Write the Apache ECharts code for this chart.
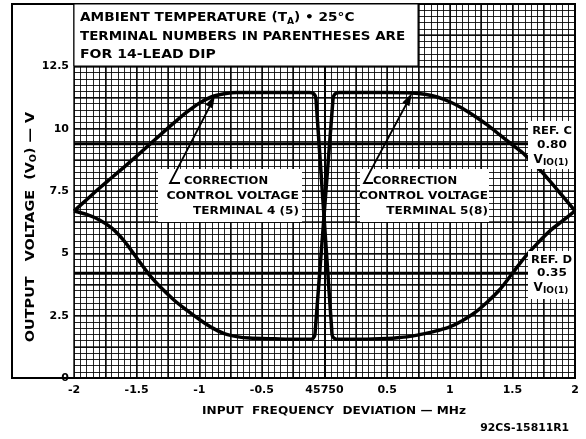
<!DOCTYPE html>
<html><head><meta charset="utf-8">
<script src="https://cdn.jsdelivr.net/npm/echarts@6/dist/echarts.min.js"></script>
<style>html,body{margin:0;padding:0;background:#fff}#c{width:586px;height:439px}</style>
</head><body><div id="c"></div>
<script>
// ---- data ----
const xTickValues = [-2, -1.5, -1, -0.5, 0, 0.5, 1, 1.5, 2];
const xTickLabels = ['-2', '-1.5', '-1', '-0.5', '45750', '0.5', '1', '1.5', '2'];
const yTickValues = [0, 2.5, 5, 7.5, 10, 12.5];
const yTickLabels = ['0', '2.5', '5', '7.5', '10', '12.5'];

// Correction control voltage, terminal 4(5)
const curveAx = [-2, -1.9, -1.8, -1.7, -1.6, -1.5, -1.4, -1.3, -1.2, -1.1, -1.0, -0.9, -0.8, -0.7, -0.5, -0.3, -0.12, -0.085, -0.068, 0.06, 0.075, 0.11, 0.3, 0.5, 0.6, 0.7, 0.8, 0.9, 1.0, 1.1, 1.2, 1.3, 1.4, 1.5, 1.6, 1.7, 1.8, 1.9, 2.0];
const curveAy = [6.7, 7.15, 7.6, 8.03, 8.46, 8.9, 9.35, 9.8, 10.24, 10.66, 11.02, 11.28, 11.4, 11.45, 11.45, 11.45, 11.45, 11.4, 11.2, 1.75, 1.6, 1.55, 1.55, 1.58, 1.62, 1.68, 1.78, 1.9, 2.05, 2.3, 2.62, 3.05, 3.55, 4.2, 4.85, 5.4, 5.9, 6.3, 6.7];
// Correction control voltage, terminal 5(8)
const curveBx = [-2, -1.9, -1.8, -1.7, -1.6, -1.5, -1.4, -1.3, -1.2, -1.1, -1.0, -0.9, -0.8, -0.7, -0.6, -0.4, -0.2, -0.11, -0.09, -0.076, 0.068, 0.085, 0.12, 0.3, 0.5, 0.7, 0.8, 0.9, 1.0, 1.1, 1.2, 1.3, 1.4, 1.5, 1.6, 1.7, 1.8, 1.9, 2.0];
const curveBy = [6.7, 6.56, 6.35, 6.02, 5.5, 4.82, 4.15, 3.6, 3.12, 2.72, 2.35, 2.02, 1.78, 1.66, 1.6, 1.57, 1.55, 1.55, 1.6, 1.75, 11.2, 11.4, 11.45, 11.45, 11.45, 11.43, 11.38, 11.27, 11.08, 10.82, 10.5, 10.15, 9.75, 9.35, 8.95, 8.45, 7.9, 7.3, 6.7];

const refC = 9.4;   // REF. C 0.80 VIO(1)
const refD = 4.2;   // REF. D 0.35 VIO(1)
const xMin = -2, xMax = 2, yMin = 0, yMax = 15;

// ---- chart ----
const FONT = 'DejaVu Sans';
const chart = echarts.init(document.getElementById('c'), null, {renderer: 'canvas'});
const zip = (xs, ys) => xs.map((x, i) => [x, ys[i]]);

function gridAxis(type, interval, width) {
  return {
    type: 'value', min: type === 'x' ? xMin : yMin, max: type === 'x' ? xMax : yMax,
    interval: interval, axisLabel: {show: false}, axisTick: {show: false}, axisLine: {show: false},
    splitLine: {show: true, lineStyle: {color: '#000', width: width, opacity: 0.85}}
  };
}

const lbl = {color: '#000', fontFamily: FONT, fontWeight: 'bold', fontSize: 11};

const option = {
  animation: false,
  backgroundColor: '#fff',
  grid: {left: 74, right: 11, top: 4, bottom: 61, containLabel: false},
  xAxis: [
    {
      type: 'value', min: xMin, max: xMax, interval: 0.5,
      axisLine: {show: true, lineStyle: {color: '#000', width: 2}},
      axisTick: {show: false}, splitLine: {show: false},
      axisLabel: Object.assign({margin: 7, formatter: v => {
        const i = xTickValues.findIndex(t => Math.abs(t - v) < 1e-6);
        return i >= 0 ? xTickLabels[i] : '';
      }}, lbl)
    },
    gridAxis('x', 0.05, 1),
    gridAxis('x', 0.25, 1.6)
  ],
  yAxis: [
    {
      type: 'value', min: yMin, max: yMax, interval: 2.5,
      axisLine: {show: true, lineStyle: {color: '#000', width: 2}},
      axisTick: {show: false}, splitLine: {show: false},
      axisLabel: Object.assign({margin: 5, formatter: v => {
        const i = yTickValues.findIndex(t => Math.abs(t - v) < 1e-6);
        return i >= 0 ? yTickLabels[i] : '';
      }}, lbl)
    },
    gridAxis('y', 0.25, 1),
    gridAxis('y', 1.25, 1.6)
  ],
  series: [
    {type: 'line', name: 'REF C', data: [[xMin, refC], [xMax, refC]], symbol: 'none',
      lineStyle: {color: '#000', width: 3}, z: 3},
    {type: 'line', name: 'REF D', data: [[xMin, refD], [xMax, refD]], symbol: 'none',
      lineStyle: {color: '#000', width: 3}, z: 3},
    {type: 'line', name: 'Terminal 4(5)', data: zip(curveAx, curveAy), symbol: 'none',
      smooth: 0.3, lineStyle: {color: '#000', width: 3.5, join: 'round'}, z: 4},
    {type: 'line', name: 'Terminal 5(8)', data: zip(curveBx, curveBy), symbol: 'none',
      smooth: 0.3, lineStyle: {color: '#000', width: 3.5, join: 'round'}, z: 4}
  ]
};

chart.setOption(option);

// annotation overlays (positions in pixels)
const tStyle = (text, x, y, size, align, sx) => ({
  type: 'text', z: 102, x: x, y: y, scaleX: sx || 1,
  style: {text: text, fill: '#000', font: 'bold ' + size + 'px "' + FONT + '"',
    textAlign: align || 'left', textVerticalAlign: 'middle'}
});
const richSub = (nSize, sSize, pad) => ({
  n: {font: 'bold ' + nSize + 'px "' + FONT + '"', fill: '#000'},
  s: {font: 'bold ' + sSize + 'px "' + FONT + '"', fill: '#000', padding: [pad, 0, 0, 0]}
});

function arrowHead(tip, from, len, half) {
  const dx = tip[0] - from[0], dy = tip[1] - from[1];
  const L = Math.hypot(dx, dy), ux = dx / L, uy = dy / L;
  const bx = tip[0] - ux * len, by = tip[1] - uy * len;
  return {type: 'polygon', z: 103, shape: {points: [tip, [bx - uy * half, by + ux * half], [bx + uy * half, by - ux * half]]},
    style: {fill: '#000'}};
}

const g = [
  // outer frame
  {type: 'rect', z: 101, shape: {x: 12, y: 4, width: 563, height: 374}, style: {fill: 'none', stroke: '#000', lineWidth: 2}},
  // title box
  {type: 'rect', z: 101, shape: {x: 74, y: 4, width: 344, height: 62}, style: {fill: '#fff', stroke: '#000', lineWidth: 1}},
  {type: 'text', z: 102, x: 80, y: 18, scaleX: 1.14, style: {text: '{n|AMBIENT TEMPERATURE (T}{s|A}{n|) • 25°C}',
    rich: richSub(12, 8, 7), textVerticalAlign: 'middle'}},
  tStyle('TERMINAL NUMBERS IN PARENTHESES ARE', 80, 37, 12, 'left', 1.12),
  tStyle('FOR 14-LEAD DIP', 80, 55, 12, 'left', 1.17),
  // left annotation box
  {type: 'rect', z: 101, shape: {x: 158, y: 169, width: 144, height: 53}, style: {fill: '#fff'}},
  tStyle('CORRECTION', 184, 181, 11, 'left', 1.05),
  tStyle('CONTROL VOLTAGE', 299, 196, 11, 'right', 1.13),
  tStyle('TERMINAL 4 (5)', 299, 211, 11, 'right', 1.1),
  {type: 'polyline', z: 103, shape: {points: [[180, 183], [170, 183], [211, 104]]}, style: {stroke: '#000', lineWidth: 1.8, fill: 'none'}},
  arrowHead([215, 95], [170, 183], 13, 4),
  // right annotation box
  {type: 'rect', z: 101, shape: {x: 360, y: 169, width: 129, height: 53}, style: {fill: '#fff'}},
  tStyle('CORRECTION', 373, 181, 11, 'left', 1.05),
  tStyle('CONTROL VOLTAGE', 488, 196, 11, 'right', 1.1),
  tStyle('TERMINAL 5(8)', 488, 211, 11, 'right', 1.1),
  {type: 'polyline', z: 103, shape: {points: [[373, 183], [364, 183], [408, 101]]}, style: {stroke: '#000', lineWidth: 1.8, fill: 'none'}},
  arrowHead([412, 93], [364, 183], 13, 4),
  // REF C box
  {type: 'rect', z: 101, shape: {x: 528, y: 121, width: 46, height: 48}, style: {fill: '#fff'}},
  tStyle('REF. C', 572, 131, 11, 'right', 1.05),
  tStyle('0.80', 552, 145, 11, 'center', 1.1),
  {type: 'text', z: 102, x: 551, y: 160, style: {text: '{n|V}{s|IO(1)}', rich: richSub(12, 9, 5), textAlign: 'center', textVerticalAlign: 'middle'}},
  // REF D box
  {type: 'rect', z: 101, shape: {x: 528, y: 251, width: 46, height: 48}, style: {fill: '#fff'}},
  tStyle('REF. D', 572, 260, 11, 'right', 1.05),
  tStyle('0.35', 552, 273, 11, 'center', 1.1),
  {type: 'text', z: 102, x: 551, y: 288, style: {text: '{n|V}{s|IO(1)}', rich: richSub(12, 9, 5), textAlign: 'center', textVerticalAlign: 'middle'}},
  // y axis name
  {type: 'text', z: 102, x: 31, y: 227, rotation: Math.PI / 2, scaleX: 1.2,
    style: {text: '{n|OUTPUT   VOLTAGE  (V}{s|O}{n|) — V}', rich: richSub(12, 8, 6),
      textAlign: 'center', textVerticalAlign: 'middle'}},
  // x axis name
  tStyle('INPUT  FREQUENCY  DEVIATION — MHz', 334, 411, 11, 'center', 1.1),
  tStyle('92CS-15811R1', 569, 428, 10, 'right', 1.08)
];
chart.setOption({graphic: g});
</script>
</body></html>
